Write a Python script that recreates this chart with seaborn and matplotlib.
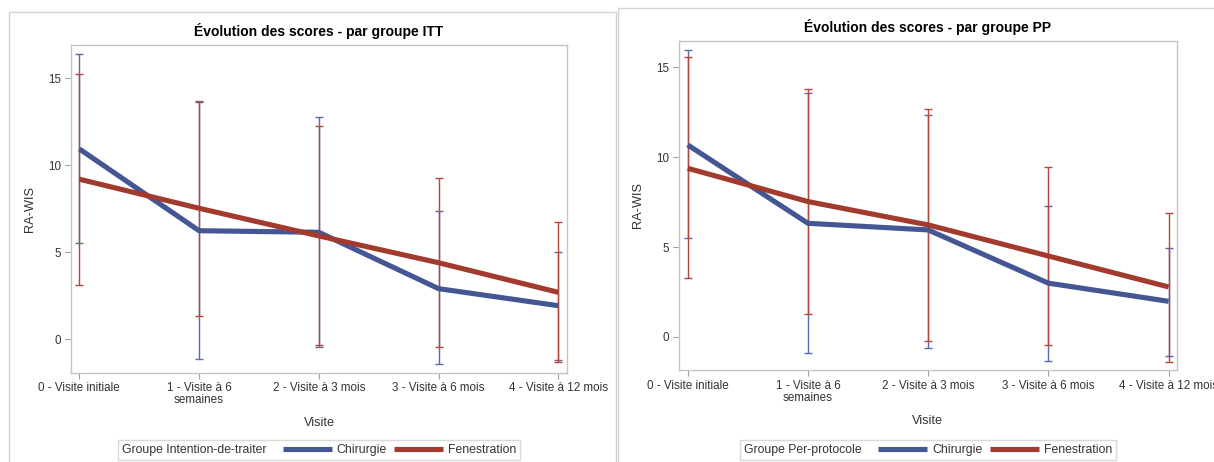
import numpy as np
import pandas as pd
import matplotlib
matplotlib.use("Agg")
import matplotlib.pyplot as plt
from matplotlib.lines import Line2D
from matplotlib.patches import Rectangle
from matplotlib.offsetbox import HPacker
import seaborn as sns

# ---------------- data ----------------
visits = ["0 - Visite initiale", "1 - Visite à 6\nsemaines", "2 - Visite à 3 mois",
          "3 - Visite à 6 mois", "4 - Visite à 12 mois"]
groups = ["Chirurgie", "Fenestration"]

itt_chir_mean = [10.94, 6.24, 6.15, 2.91, 1.93]
itt_chir_low = [5.52, -1.13, -0.44, -1.42, -1.19]
itt_chir_high = [16.41, 13.70, 12.78, 7.36, 5.00]
itt_fen_mean = [9.20, 7.53, 5.94, 4.40, 2.70]
itt_fen_low = [3.14, 1.34, -0.35, -0.44, -1.32]
itt_fen_high = [15.23, 13.66, 12.28, 9.27, 6.74]

pp_chir_mean = [10.68, 6.32, 5.95, 2.99, 1.98]
pp_chir_low = [5.52, -0.91, -0.59, -1.33, -1.07]
pp_chir_high = [15.96, 13.57, 12.33, 7.27, 4.93]
pp_fen_mean = [9.38, 7.53, 6.23, 4.50, 2.78]
pp_fen_low = [3.28, 1.26, -0.24, -0.43, -1.39]
pp_fen_high = [15.57, 13.81, 12.68, 9.45, 6.90]

titles = ["Évolution des scores - par groupe ITT", "Évolution des scores - par groupe PP"]
legend_titles = ["Groupe Intention-de-traiter", "Groupe Per-protocole"]
y_label = "RA-WIS"
x_label = "Visite"
y_ticks = [0, 5, 10, 15]

colors = {"Chirurgie": "#445694", "Fenestration": "#A23A2E"}
err_colors = {"Chirurgie": "#5a6aa8", "Fenestration": "#b2473b"}

# ---------------- style ----------------
sns.set_theme(style="white")
plt.rcParams["font.family"] = ["Liberation Sans", "DejaVu Sans"]
TXT = "#333333"

W, H = 1214, 462
fig = plt.figure(figsize=(W / 100, H / 100), dpi=100)
fig.patch.set_facecolor("white")


def px_rect(x0, y0, x1, y1):
    return [x0 / W, 1 - y1 / H, (x1 - x0) / W, (y1 - y0) / H]


# panel frames
for (x0, y0, x1, y1) in [(9, 12, 616, 475), (618, 8, 1225, 475)]:
    l, b, w, h = px_rect(x0, y0, x1, y1)
    fig.add_artist(Rectangle((l, b), w, h, transform=fig.transFigure, fill=False,
                             edgecolor="#d4d4d4", linewidth=1.0))

panels = [
    dict(rect=px_rect(70.7, 44.7, 567.3, 372.7), ylim=(-1.92, 16.93), xlim=(-0.072, 4.075),
         chir=(itt_chir_mean, itt_chir_low, itt_chir_high),
         fen=(itt_fen_mean, itt_fen_low, itt_fen_high)),
    dict(rect=px_rect(678.7, 41.0, 1177.3, 370.0), ylim=(-1.84, 16.46), xlim=(-0.075, 4.072),
         chir=(pp_chir_mean, pp_chir_low, pp_chir_high),
         fen=(pp_fen_mean, pp_fen_low, pp_fen_high)),
]

for i, p in enumerate(panels):
    ax = fig.add_axes(p["rect"])
    rows = []
    for g, key in zip(groups, ["chir", "fen"]):
        m, lo, hi = p[key]
        for k in range(len(visits)):
            rows.append(dict(visit=k, groupe=g, score=m[k], low=lo[k], high=hi[k]))
    df = pd.DataFrame(rows)

    # error bars
    for g in groups:
        d = df[df.groupe == g]
        ax.errorbar(d["visit"], d["score"],
                    yerr=[d["score"] - d["low"], d["high"] - d["score"]],
                    fmt="none", ecolor=err_colors[g], elinewidth=1.0,
                    capsize=2.8, capthick=1.0, zorder=2)

    sns.lineplot(data=df, x="visit", y="score", hue="groupe", palette=colors,
                 hue_order=groups, linewidth=3.7, legend=False, ax=ax, zorder=3,
                 solid_capstyle="butt")

    ax.set_xlim(*p["xlim"])
    ax.set_ylim(*p["ylim"])
    ax.set_xticks(range(len(visits)))
    ax.set_xticklabels(visits, fontsize=8.4, color=TXT, linespacing=1.0)
    ax.set_yticks(y_ticks)
    ax.set_yticklabels([str(v) for v in y_ticks], fontsize=8.4, color=TXT)
    ax.tick_params(axis="both", which="both", length=4, width=0.8, color="#a0a0a0",
                   pad=3, direction="out", bottom=True, left=True)
    for s in ax.spines.values():
        s.set_color("#c4c4c4")
        s.set_linewidth(1.0)

    ax.set_xlabel(x_label, fontsize=9.2, color=TXT)
    ax.set_ylabel(y_label, fontsize=9.2, color=TXT)
    ax_h = p["rect"][3] * H
    ax_w = p["rect"][2] * W
    ax.xaxis.set_label_coords(0.5, -44.5 / ax_h)
    ax.yaxis.set_label_coords(-34.5 / ax_w, 0.5)

    ax.set_title(titles[i], fontsize=10, fontweight="bold", color="black", pad=6.5)

    # legend: title inline with entries (SAS style)
    handles = [Line2D([], [], color=colors[g], lw=3.7, solid_capstyle="butt") for g in groups]
    leg_y = -(450 - (H - (p["rect"][1] * H))) / ax_h
    leg = ax.legend(handles, groups, title=legend_titles[i], loc="center",
                    bbox_to_anchor=(0.5, leg_y), ncol=2, fontsize=8.8,
                    title_fontsize=8.8, handlelength=4.0, handletextpad=0.4,
                    columnspacing=0.6, frameon=True, fancybox=False,
                    edgecolor="#d0d0d0", borderpad=0.3, borderaxespad=0)
    leg.get_frame().set_linewidth(1.0)
    leg.get_title().set_color(TXT)
    for t in leg.get_texts():
        t.set_color(TXT)
    old = leg._legend_box
    newbox = HPacker(pad=old.pad, sep=12.0, align="center",
                     children=[leg._legend_title_box, leg._legend_handle_box])
    newbox.set_figure(fig)
    newbox.axes = ax
    newbox.set_offset(leg._findoffset)
    leg._legend_box = newbox

fig.savefig("out.png", dpi=100)
